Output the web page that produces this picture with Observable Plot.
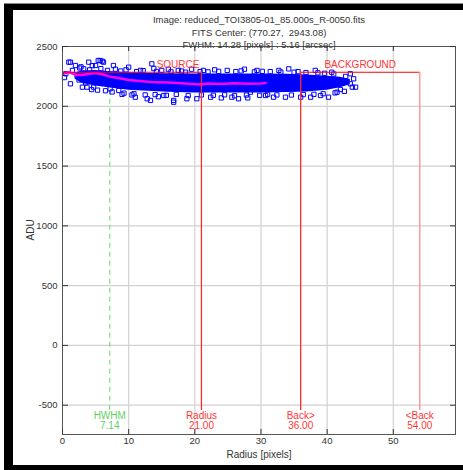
<!DOCTYPE html>
<html><head><meta charset="utf-8">
<script src="https://cdn.jsdelivr.net/npm/d3@7"></script>
<script src="https://cdn.jsdelivr.net/npm/@observablehq/plot@0.6"></script>
<style>
html,body{margin:0;padding:0;background:#fff;width:463px;height:470px;overflow:hidden;}
#outer{position:absolute;left:4px;top:3px;width:459px;height:467px;background:#000;border-top:1px solid #888;box-sizing:border-box;}
#inner{position:absolute;left:13px;top:10px;width:452px;height:455px;background:#fff;}
#inner svg{display:block;}
</style></head><body>
<div id="outer"></div>
<div id="inner"></div>
<script>
// ---- data ----
const titleLines = ["Image: reduced_TOI3805-01_85.000s_R-0050.fits", "FITS Center: (770.27,\u00a0 2943.08)", "FWHM: 14.28 [pixels] : 5.16 [arcsec]"];
const xLabel = "Radius [pixels]";
const yLabel = "ADU";
const xTicks = [0, 10, 20, 30, 40, 50];
const yTicks = [2500, 2000, 1500, 1000, 500, 0, -500];

// dense core of the radial profile (pixel cloud)
const bandR  = [2, 3, 5, 7, 10, 13, 16, 20, 25, 30, 34, 37, 40, 42, 43.5];
const bandHi = [2280, 2295, 2300, 2290, 2280, 2275, 2272, 2270, 2270, 2270, 2268, 2262, 2252, 2242, 2225];
const bandLo = [2225, 2190, 2170, 2155, 2135, 2125, 2118, 2112, 2112, 2112, 2115, 2120, 2135, 2155, 2180];

// individually visible pixel values
const pixR = [0.3, 0.5, 0.95, 1.2, 1.2, 1.5, 1.96, 2.2, 2.5, 2.8, 3.2, 3.5, 3.7, 3.97, 4.5, 4.7, 5.0, 5.4, 5.7, 6.0, 6.2, 6.5, 7.2, 7.7, 8.0, 8.5, 9.0, 10, 10.5, 11, 11.8, 12.8, 13.3, 13.5, 13.8, 14.5, 15.3, 16.0, 16.8, 16.8, 17.5, 18.8, 19.5, 20.3, 21.3, 22.4, 23.0, 24.0, 24.9, 25.6, 26.6, 27.5, 28.0, 28.4, 29.4, 30.7, 31.9, 32.7, 33.7, 34.2, 35, 36, 37.5, 38.2, 39.0, 40.2, 40.7, 41.5, 42.0, 42.3, 42.8, 43.5, 43.5, 43.8, 44.0, 44.3,
  2.6, 4.1, 5.8, 6.8, 8.8, 9.6, 11.2, 12.2, 14.2, 15.0, 16.4, 18.0, 18.6, 20.8, 22.0, 23.6, 26.2, 27.0, 29.0, 30.2, 31.4, 33.0, 35.6, 36.8, 38.6, 39.6, 41.0,
  3.0, 4.4, 5.3, 7.5, 9.3, 10.8, 12.5, 14.0, 15.7, 17.2, 19.0, 21.0, 22.8, 24.5, 26.0, 27.8, 29.8, 31.0, 32.4, 34.6, 36.4, 38.0, 39.4, 41.2, 42.6];
const pixV = [2240, 2272, 2369, 2188, 2369, 2300, 2341, 2250, 2220, 2330, 2313, 2195, 2160, 2369, 2340, 2160, 2341, 2383, 2383, 2377, 2369, 2130, 2146, 2341, 2310, 2132, 2100, 2327, 2095, 2076, 2300, 2063, 2049, 2355, 2316, 2080, 2090, 2310, 2034, 2049, 2300, 2063, 2310, 2063, 2300, 2076, 2305, 2070, 2300, 2076, 2063, 2310, 2070, 2118, 2300, 2090, 2076, 2300, 2076, 2313, 2285, 2076, 2076, 2300, 2090, 2076, 2285, 2118, 2140, 2216, 2250, 2272, 2188, 2160, 2230, 2160,
  2320, 2305, 2315, 2300, 2295, 2305, 2290, 2298, 2292, 2300, 2288, 2295, 2285, 2290, 2288, 2292, 2290, 2296, 2288, 2292, 2290, 2286, 2290, 2282, 2280, 2276, 2270,
  2160, 2140, 2135, 2120, 2110, 2105, 2095, 2098, 2092, 2100, 2090, 2095, 2092, 2096, 2088, 2094, 2092, 2100, 2095, 2094, 2098, 2100, 2105, 2112, 2125];

// azimuthal mean profile
const meanR = [0.3, 1, 2, 3, 4, 5, 6, 7, 8, 10, 12, 14, 16, 18, 20, 21, 22, 24, 26, 28, 30, 30.7];
const meanV = [2275, 2285, 2262, 2262, 2272, 2278, 2268, 2250, 2240, 2220, 2210, 2200, 2198, 2192, 2185, 2182, 2190, 2186, 2192, 2188, 2190, 2195];

// aperture markers
const hwhm = 7.14;
const apRadius = 21.00;
const backIn = 36.00;
const backOut = 54.00;
const markTop = 2285;
const markBottom = -545;

// ---- build ----
const band = bandR.map((r, i) => ({r, lo: bandLo[i], hi: bandHi[i]}));
const pix = pixR.map((r, i) => ({r, v: pixV[i]}));
const mean = meanR.map((r, i) => ({r, v: meanV[i]}));
const fmt = d3.format(".2f");
const red = "#ff3535";
const bottomLabels = [
  {x: hwhm, a: "HWHM", b: fmt(hwhm), c: "#5fd35f"},
  {x: apRadius, a: "Radius", b: fmt(apRadius), c: red},
  {x: backIn, a: "Back>", b: fmt(backIn), c: red},
  {x: backOut, a: "<Back", b: fmt(backOut), c: red}
];

const W = 452, H = 455, mL = 49, mT = 36, mR = 10, mB = 31;
const iW = W - mL - mR, iH = H - mT - mB;
const grid = "#d2d2d2", ink = "#333";

const chart = Plot.plot({
  width: W, height: H,
  marginLeft: mL, marginTop: mT, marginRight: mR, marginBottom: mB,
  style: {fontFamily: "'Liberation Sans', Arial, sans-serif", fontSize: "9.5px", background: "#fff"},
  x: {domain: [0, 59.4], axis: null},
  y: {domain: [-745, 2500], axis: null},
  marks: [
    Plot.ruleX(xTicks.filter(d => d > 0), {x: d => d, stroke: grid, strokeWidth: 1.2}),
    Plot.ruleY(yTicks.filter(d => d < 2500), {y: d => d, stroke: grid, strokeWidth: 1.2}),
    Plot.ruleX([hwhm], {x: d => d, y1: markTop, y2: markBottom, stroke: "#7ee07e", strokeDasharray: "5,4", strokeWidth: 1.2}),
    Plot.areaY(band, {x: "r", y1: "lo", y2: "hi", fill: "#0000ff", curve: "linear"}),
    Plot.dot(pix, {x: "r", y: "v", symbol: "square", r: 2.4, stroke: "#0000ff", fill: "none", strokeWidth: 1}),
    Plot.line(mean, {x: "r", y: "v", stroke: "#ff00ff", strokeWidth: 2.5}),
    Plot.ruleY([markTop], {y: d => d, x1: 0, x2: apRadius, stroke: "#ff0000", strokeWidth: 1.1}),
    Plot.ruleY([markTop], {y: d => d, x1: backIn, x2: backOut, stroke: "#ff0000", strokeWidth: 1.1}),
    Plot.ruleX([apRadius, backIn], {x: d => d, y1: markTop, y2: markBottom, stroke: "#ff2a2a", strokeWidth: 1.3}),
    Plot.ruleX([backOut], {x: d => d, y1: markTop, y2: markBottom, stroke: "#ff8a8a", strokeWidth: 1.3}),
    Plot.text(["SOURCE"], {x: apRadius, y: markTop, text: d => d, textAnchor: "end", dx: -2, dy: -7, fill: red, fontSize: 10}),
    Plot.text(["BACKGROUND"], {x: (backIn + backOut) / 2, y: markTop, text: d => d, dy: -7, fill: red, fontSize: 10}),
    Plot.text(bottomLabels, {x: "x", text: "a", frameAnchor: "bottom", dy: -16, fill: "c", fontSize: 10}),
    Plot.text(bottomLabels, {x: "x", text: "b", frameAnchor: "bottom", dy: -5.5, fill: "c", fontSize: 10}),
    Plot.frame({stroke: "#555"}),
    // inward ticks
    Plot.ruleX(xTicks, {x: d => d, insetTop: iH - 5, stroke: ink}),
    Plot.ruleX(xTicks, {x: d => d, insetBottom: iH - 5, stroke: ink}),
    Plot.ruleY(yTicks, {y: d => d, insetRight: iW - 6, stroke: ink}),
    Plot.ruleY(yTicks, {y: d => d, insetLeft: iW - 5, stroke: ink}),
    // tick labels
    Plot.text(xTicks, {x: d => d, text: d => String(d), frameAnchor: "bottom", dy: 9.5, fill: ink}),
    Plot.text(yTicks, {y: d => d, text: d => String(d), frameAnchor: "left", dx: -5, textAnchor: "end", fill: ink}),
    // axis titles
    Plot.text([yLabel], {text: d => d, frameAnchor: "left", dx: -32, rotate: -90, fill: ink, fontSize: 10}),
    Plot.text([xLabel], {text: d => d, frameAnchor: "bottom", dy: 23, fill: ink, fontSize: 10}),
    // title
    Plot.text(titleLines.slice(0, 1), {text: d => d, frameAnchor: "top", fill: ink, fontSize: 9.5, dy: -30}),
    Plot.text(titleLines.slice(1, 2), {text: d => d, frameAnchor: "top", fill: ink, fontSize: 9.5, dy: -17.5}),
    Plot.text(titleLines.slice(2, 3), {text: d => d, frameAnchor: "top", fill: ink, fontSize: 9.5, dy: -5})
  ]
});
document.getElementById("inner").appendChild(chart);
</script>
</body></html>
